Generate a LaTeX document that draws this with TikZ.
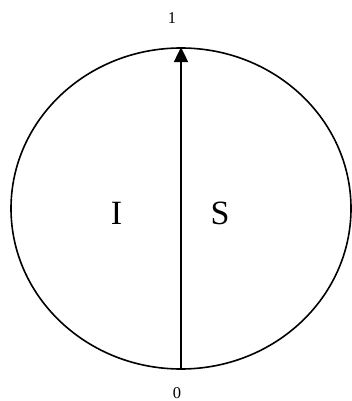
\documentclass[tikz,border=0pt]{standalone}
\usepackage{fontspec}
\setmainfont{Liberation Serif}
\usetikzlibrary{arrows.meta,shapes.geometric}
\begin{document}
\begin{tikzpicture}[x=1pt,y=-1pt,
  lbl/.style={inner sep=0pt, font=\fontsize{16.5}{16.5}\selectfont},
  big/.style={inner sep=0pt, font=\fontsize{34}{34}\selectfont}]
\useasboundingbox (0,0) rectangle (352,401);
\node[draw, line width=1.6pt, ellipse, minimum width=340pt, minimum height=321pt, inner sep=0pt] (c) at (181,208.5) {};
\draw[line width=2.2pt, -{Triangle[length=15pt,width=14pt]}] (c.south) -- (c.north);
\node[lbl] (one) at (172,18) {1};
\node[lbl] (zero) at (177,393) {0};
\node[big] (I) at (116.5,213) {I};
\node[big] (S) at (220,213) {S};
\end{tikzpicture}
\end{document}
